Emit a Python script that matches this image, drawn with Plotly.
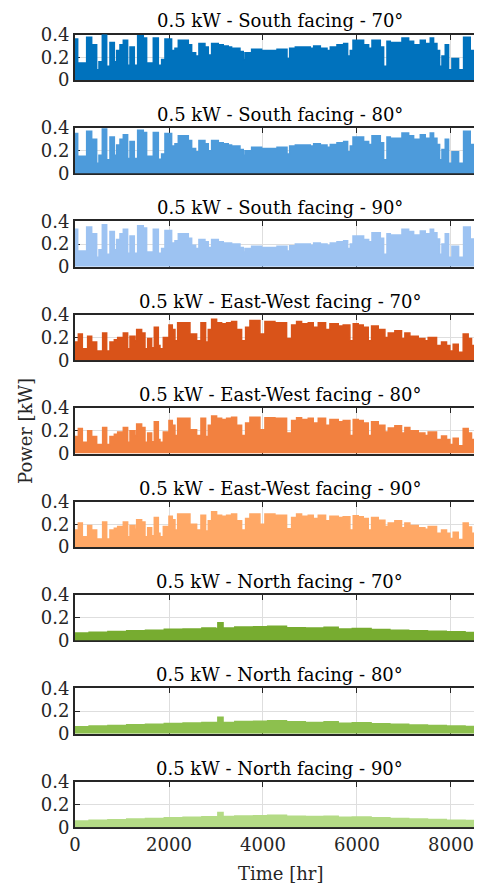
import plotly.graph_objects as go

# ---------------- data ----------------
END_HOUR = 8760
X_TICKS = [0, 2000, 4000, 6000, 8000]
Y_TICKS = [0, 0.2, 0.4]
Y_TICK_LABELS = ["0", "0.2", "0.4"]

# South facing: daily-peak envelope (kW), value holds from each start hour
S_HOURS = [0, 57, 248, 355, 461, 510, 581, 674, 744, 837,
           886, 957, 1028, 1120, 1170, 1262, 1333, 1453, 1524, 1666,
           1773, 1843, 1914, 2056, 2127, 2198, 2411, 2482, 2567, 2637,
           2765, 2836, 2907, 3049, 3155, 3261, 3332, 3510, 3580, 3616,
           3758, 3970, 4298, 4511, 4567, 4688, 5007, 5078, 5220, 5362,
           5432, 5574, 5716, 5801, 5858, 5915, 6141, 6248, 6319, 6496,
           6567, 6638, 6709, 6957, 7099, 7205, 7347, 7453, 7559, 7630,
           7701, 7758, 7808, 7878, 7949, 8020, 8162, 8268, 8410, 8481,
           8552]
S70 = [0.36, 0.15, 0.375, 0.31, 0.09, 0.16, 0.40, 0.12, 0.33, 0.16,
       0.26, 0.31, 0.35, 0.13, 0.29, 0.13, 0.39, 0.37, 0.15, 0.37,
       0.13, 0.18, 0.36, 0.26, 0.28, 0.35, 0.31, 0.24, 0.21, 0.32,
       0.29, 0.22, 0.32, 0.31, 0.30, 0.29, 0.28, 0.25, 0.18, 0.24,
       0.27, 0.26, 0.27, 0.19, 0.28, 0.29, 0.28, 0.30, 0.28, 0.26,
       0.29, 0.31, 0.32, 0.21, 0.26, 0.35, 0.31, 0.28, 0.35, 0.29,
       0.12, 0.34, 0.33, 0.37, 0.34, 0.31, 0.35, 0.32, 0.37, 0.32,
       0.26, 0.12, 0.21, 0.31, 0.09, 0.19, 0.09, 0.375, 0.26, 0.15,
       0.12]
S80 = [0.35, 0.15, 0.37, 0.30, 0.09, 0.16, 0.39, 0.12, 0.32, 0.16,
       0.25, 0.30, 0.34, 0.13, 0.28, 0.13, 0.38, 0.36, 0.15, 0.36,
       0.125, 0.17, 0.35, 0.24, 0.26, 0.33, 0.29, 0.22, 0.19, 0.29,
       0.26, 0.20, 0.29, 0.27, 0.26, 0.25, 0.24, 0.21, 0.16, 0.20,
       0.23, 0.22, 0.23, 0.17, 0.24, 0.25, 0.24, 0.26, 0.25, 0.23,
       0.255, 0.27, 0.28, 0.19, 0.24, 0.32, 0.28, 0.255, 0.33, 0.27,
       0.12, 0.32, 0.31, 0.355, 0.33, 0.30, 0.34, 0.31, 0.355, 0.31,
       0.255, 0.12, 0.21, 0.30, 0.09, 0.19, 0.09, 0.37, 0.255, 0.15,
       0.12]
S90 = [0.33, 0.14, 0.35, 0.29, 0.085, 0.15, 0.37, 0.11, 0.31, 0.15,
       0.24, 0.29, 0.33, 0.12, 0.27, 0.12, 0.36, 0.34, 0.13, 0.33,
       0.12, 0.16, 0.32, 0.21, 0.23, 0.29, 0.25, 0.19, 0.16, 0.24,
       0.22, 0.17, 0.24, 0.22, 0.21, 0.21, 0.20, 0.17, 0.13, 0.16,
       0.18, 0.17, 0.18, 0.14, 0.185, 0.20, 0.19, 0.21, 0.20, 0.19,
       0.21, 0.22, 0.23, 0.16, 0.20, 0.27, 0.24, 0.22, 0.30, 0.25,
       0.11, 0.29, 0.28, 0.33, 0.31, 0.28, 0.315, 0.29, 0.33, 0.30,
       0.245, 0.11, 0.20, 0.29, 0.085, 0.18, 0.085, 0.35, 0.245, 0.14,
       0.11]

# East-West facing
EW_HOURS = [0, 71, 156, 269, 355, 461, 588, 674, 744, 837,
            908, 1028, 1120, 1170, 1276, 1312, 1418, 1489, 1546, 1631,
            1687, 1773, 1808, 1879, 1999, 2070, 2127, 2184, 2446, 2588,
            2680, 2779, 2836, 2907, 3013, 3120, 3226, 3332, 3439, 3545,
            3630, 3722, 3935, 4041, 4254, 4502, 4609, 4715, 4821, 4963,
            5069, 5176, 5332, 5424, 5601, 5707, 5849, 5920, 6027, 6133,
            6239, 6310, 6452, 6594, 6665, 6806, 6948, 7019, 7125, 7303,
            7445, 7515, 7693, 7799, 7905, 7976, 8047, 8154, 8260, 8366,
            8437, 8508]
EW70 = [0.16, 0.23, 0.10, 0.21, 0.16, 0.08, 0.24, 0.08, 0.16, 0.18,
        0.20, 0.24, 0.10, 0.21, 0.17, 0.27, 0.24, 0.10, 0.19, 0.11,
        0.29, 0.13, 0.10, 0.20, 0.31, 0.27, 0.17, 0.33, 0.23, 0.17,
        0.33, 0.16, 0.27, 0.36, 0.33, 0.32, 0.33, 0.34, 0.27, 0.17,
        0.29, 0.35, 0.23, 0.34, 0.33, 0.19, 0.31, 0.34, 0.32, 0.33,
        0.29, 0.33, 0.27, 0.32, 0.30, 0.31, 0.17, 0.32, 0.31, 0.29,
        0.17, 0.30, 0.27, 0.20, 0.24, 0.26, 0.19, 0.24, 0.21, 0.19,
        0.17, 0.20, 0.13, 0.16, 0.13, 0.08, 0.14, 0.07, 0.23, 0.19,
        0.13, 0.10]
EW80 = [0.15, 0.22, 0.10, 0.20, 0.15, 0.08, 0.23, 0.08, 0.15, 0.17,
        0.19, 0.23, 0.10, 0.20, 0.16, 0.26, 0.23, 0.10, 0.18, 0.105,
        0.28, 0.125, 0.10, 0.19, 0.29, 0.25, 0.16, 0.31, 0.21, 0.16,
        0.31, 0.15, 0.25, 0.33, 0.31, 0.30, 0.31, 0.32, 0.25, 0.16,
        0.27, 0.32, 0.21, 0.315, 0.31, 0.18, 0.29, 0.315, 0.30, 0.31,
        0.27, 0.31, 0.25, 0.30, 0.28, 0.29, 0.16, 0.30, 0.29, 0.27,
        0.16, 0.28, 0.25, 0.19, 0.225, 0.245, 0.18, 0.23, 0.20, 0.18,
        0.16, 0.19, 0.125, 0.155, 0.125, 0.08, 0.135, 0.07, 0.22, 0.18,
        0.125, 0.10]
EW90 = [0.15, 0.21, 0.09, 0.19, 0.15, 0.07, 0.22, 0.07, 0.15, 0.165,
        0.18, 0.22, 0.09, 0.19, 0.155, 0.24, 0.22, 0.09, 0.17, 0.10,
        0.26, 0.12, 0.09, 0.18, 0.27, 0.24, 0.15, 0.29, 0.20, 0.15,
        0.28, 0.14, 0.23, 0.31, 0.28, 0.27, 0.28, 0.29, 0.23, 0.15,
        0.25, 0.29, 0.20, 0.29, 0.28, 0.16, 0.26, 0.29, 0.27, 0.28,
        0.25, 0.28, 0.23, 0.27, 0.26, 0.265, 0.15, 0.275, 0.265, 0.25,
        0.15, 0.26, 0.235, 0.18, 0.21, 0.23, 0.17, 0.21, 0.19, 0.17,
        0.155, 0.18, 0.12, 0.15, 0.12, 0.075, 0.13, 0.065, 0.21, 0.175,
        0.12, 0.09]

# North facing
N_HOURS = [0, 300, 700, 1100, 1500, 1900, 2300, 2700, 2990, 3040, 3150, 3400, 3800,
           4100, 4500, 4900, 5300, 5600, 5900, 6300, 6700, 7100, 7500, 7900, 8300]
N70 = [0.065, 0.072, 0.078, 0.085, 0.090, 0.097, 0.100, 0.110, 0.105, 0.155, 0.108,
       0.118, 0.120, 0.125, 0.112, 0.110, 0.115, 0.100, 0.105, 0.095, 0.090, 0.085,
       0.080, 0.075, 0.070]
N80 = [0.062, 0.068, 0.074, 0.080, 0.085, 0.090, 0.095, 0.100, 0.100, 0.145, 0.100,
       0.108, 0.110, 0.115, 0.105, 0.100, 0.105, 0.093, 0.097, 0.088, 0.083, 0.078,
       0.073, 0.068, 0.065]
N90 = [0.055, 0.060, 0.066, 0.072, 0.077, 0.082, 0.087, 0.092, 0.092, 0.130, 0.093,
       0.098, 0.100, 0.105, 0.097, 0.093, 0.097, 0.087, 0.090, 0.082, 0.077, 0.072,
       0.067, 0.062, 0.058]

TITLES = ["0.5 kW - South facing - 70°", "0.5 kW - South facing - 80°",
          "0.5 kW - South facing - 90°", "0.5 kW - East-West facing - 70°",
          "0.5 kW - East-West facing - 80°", "0.5 kW - East-West facing - 90°",
          "0.5 kW - North facing - 70°", "0.5 kW - North facing - 80°",
          "0.5 kW - North facing - 90°"]
COLORS = ["#0072BD", "#4D9BDB", "#9DC3F2",
          "#D95319", "#F28140", "#FFA866",
          "#77AC30", "#8DC04E", "#B4DB86"]
SERIES = [(S_HOURS, S70), (S_HOURS, S80), (S_HOURS, S90),
          (EW_HOURS, EW70), (EW_HOURS, EW80), (EW_HOURS, EW90),
          (N_HOURS, N70), (N_HOURS, N80), (N_HOURS, N90)]

# ---------------- figure ----------------
# the page body has an 8 px default margin, so the figure is 8 px smaller
W, H = 474, 876
OFF = 8
FONT = "DejaVu Serif"
FS = 18
AX = "#262626"
GRID = "#DEDEDE"
LEFT = 75 - OFF
PW = W - LEFT
TOP0, STEP, PH = 34.5 - OFF, 93.4, 45.5

fig = go.Figure()
layout = dict(
    width=W, height=H, margin=dict(l=LEFT, r=0, t=0, b=0, autoexpand=False),
    paper_bgcolor="white", plot_bgcolor="white", showlegend=False,
    font=dict(family=FONT, size=FS, color=AX),
)
annotations = []
n = len(SERIES)
for i, ((hrs, vals), col, ttl) in enumerate(zip(SERIES, COLORS, TITLES)):
    k = "" if i == 0 else str(i + 1)
    top = TOP0 + STEP * i
    bot = top + PH
    dom = [1 - bot / H, 1 - top / H]
    fig.add_trace(go.Scatter(
        x=list(hrs) + [END_HOUR], y=list(vals) + [vals[-1]],
        mode="lines", line=dict(color=col, width=1.5, shape="hv"),
        fill="tozeroy", fillcolor=col, hoverinfo="skip",
        xaxis="x" + k, yaxis="y" + k))
    layout["xaxis" + k] = dict(
        domain=[0, 1], anchor="y" + k, range=[0, 8660], automargin=False,
        tickvals=X_TICKS, ticks="inside", ticklen=5, tickcolor=AX, tickwidth=1,
        showline=True, linecolor=AX, linewidth=2, mirror="ticks",
        showgrid=True, gridcolor=GRID, gridwidth=1, zeroline=False,
        showticklabels=(i == n - 1), layer="below traces",
        tickfont=dict(family=FONT, size=FS, color=AX))
    layout["yaxis" + k] = dict(
        domain=dom, anchor="x" + k, range=[0, 0.4], automargin=False,
        tickvals=Y_TICKS, ticktext=Y_TICK_LABELS, ticks="inside", ticklen=5,
        tickcolor=AX, tickwidth=1, showline=True, linecolor=AX, linewidth=2,
        showgrid=True, gridcolor=GRID, gridwidth=1, zeroline=False,
        layer="below traces", tickfont=dict(family=FONT, size=FS, color=AX))
    annotations.append(dict(
        text=ttl, xref="paper", yref="paper", x=0.503, y=dom[1],
        xanchor="center", yanchor="bottom", yshift=1, showarrow=False,
        font=dict(family=FONT, size=FS, color="#000000")))

annotations.append(dict(
    text="Time [hr]", xref="paper", yref="paper", x=0.506, y=1 - (873 - OFF) / H,
    xanchor="center", yanchor="middle", showarrow=False,
    font=dict(family=FONT, size=FS, color=AX)))
annotations.append(dict(
    text="Power [kW]", xref="paper", yref="paper", x=(25 - 75) / PW,
    y=1 - (431 - OFF) / H, xanchor="center", yanchor="middle", textangle=-90,
    showarrow=False, font=dict(family=FONT, size=FS, color=AX)))
layout["annotations"] = annotations
fig.update_layout(**layout)
fig.write_html("out.html")
